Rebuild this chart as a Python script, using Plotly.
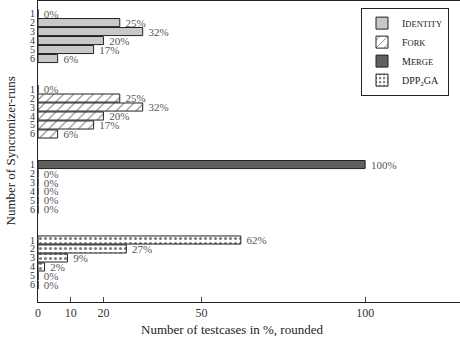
import plotly.graph_objects as go

runs = [1, 2, 3, 4, 5, 6]
identity = [0, 25, 32, 20, 17, 6]
fork = [0, 25, 32, 20, 17, 6]
merge = [100, 0, 0, 0, 0, 0]
dpp2ga = [62, 27, 9, 2, 0, 0]
x_ticks = [0, 10, 20, 50, 100]

series = [
    ("I<span style='font-size:8.5px'>DENTITY</span>", identity, dict(color="#c8c8c8")),
    ("F<span style='font-size:8.5px'>ORK</span>", fork, dict(color="white", pattern=dict(shape="/", fgcolor="black", bgcolor="white", size=7, solidity=0.15))),
    ("M<span style='font-size:8.5px'>ERGE</span>", merge, dict(color="#606060")),
    ("DPP<sub>2</sub>GA", dpp2ga, dict(color="white", pattern=dict(shape=".", fgcolor="black", bgcolor="white", size=5, solidity=0.3))),
]

GROUP_STEP = 8.4
FONT = "Liberation Serif"

fig = go.Figure()
tickvals, ticktext = [], []
for g, (name, vals, marker) in enumerate(series):
    ys = [g * GROUP_STEP + (r - 1) for r in runs]
    tickvals += ys
    ticktext += [str(r) for r in runs]
    fig.add_trace(go.Bar(
        x=vals, y=ys, orientation="h", name=name,
        width=0.9,
        marker=dict(**marker, line=dict(color="#222", width=1)),
        text=[f"\u00a0{v}%" for v in vals], textposition="outside",
        constraintext="none",
        textfont=dict(family=FONT, size=11, color="#555"),
        cliponaxis=False,
    ))

fig.update_layout(
    width=460, height=344,
    margin=dict(l=38, r=0, t=1, b=42),
    paper_bgcolor="white", plot_bgcolor="white",
    barmode="overlay",
    font=dict(family=FONT, size=11, color="#222"),
    showlegend=True,
    legend=dict(x=(361 - 38) / 422, y=0.978, xanchor="left", yanchor="top",
                bgcolor="white", bordercolor="#222", borderwidth=1,
                font=dict(family=FONT, size=10, color="#222"),
                traceorder="normal", tracegroupgap=0, itemwidth=30),
    xaxis=dict(range=[0, 129], tickvals=x_ticks, ticks="inside", ticklen=5,
               tickcolor="#444", showline=True, linecolor="#222", linewidth=1,
               mirror=True, showgrid=False, zeroline=False, automargin=False,
               tickfont=dict(family=FONT, size=12, color="#333")),
    yaxis=dict(range=[3 * GROUP_STEP + 5 + 1.9, -1.4], tickvals=tickvals, ticktext=ticktext,
               ticks="", showline=True, linecolor="#222", linewidth=1,
               showgrid=False, zeroline=False, automargin=False,
               tickfont=dict(family=FONT, size=10, color="#333")),
    annotations=[
        dict(text="Number of testcases in %, rounded", xref="paper", yref="paper",
             x=(232 - 38) / 422, y=0, yshift=-27, xanchor="center", yanchor="middle",
             showarrow=False, font=dict(family=FONT, size=13, color="#222")),
        dict(text="Number of Syncronizer-runs", xref="paper", yref="paper",
             x=0, xshift=-28, y=0.5, textangle=-90, xanchor="center", yanchor="middle",
             showarrow=False, font=dict(family=FONT, size=13, color="#222")),
    ],
)

fig.write_html("out.html", config={"displayModeBar": False},
               post_script="document.body.style.margin='0';")
